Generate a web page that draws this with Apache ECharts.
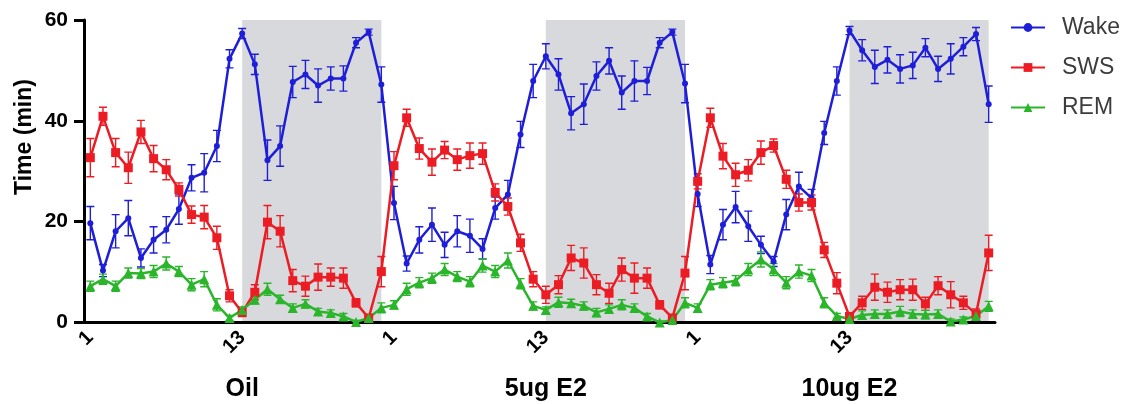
<!DOCTYPE html>
<html><head><meta charset="utf-8">
<script src="https://cdn.jsdelivr.net/npm/echarts@6/dist/echarts.min.js"></script>
<style>html,body{margin:0;padding:0;background:#fff}#c{width:1130px;height:404px}</style>
</head><body><div id="c"></div>
<script>
const groups = ['Oil', '5ug E2', '10ug E2'];
const hours = [1,2,3,4,5,6,7,8,9,10,11,12,13,14,15,16,17,18,19,20,21,22,23,24];
const darkStart = 13, darkEnd = 24;
const yTicks = [0, 20, 40, 60];

const wake = [
19.7,10.3,18.1,20.7,12.8,16.4,18.4,22.5,28.7,29.7,35.0,52.3,
57.3,51.2,32.2,35.0,47.7,49.2,47.0,48.4,48.4,55.5,57.6,47.2,
23.7,11.7,16.4,19.4,15.4,18.1,17.2,14.6,22.7,25.4,37.3,47.9,
52.8,49.2,41.5,43.3,48.9,51.9,45.6,47.9,47.9,55.5,57.6,47.4,
25.5,11.5,19.4,22.9,19.1,15.4,12.1,21.4,27.0,24.7,37.6,47.9,
57.9,54.0,50.7,52.1,50.3,51.0,54.5,50.3,52.3,54.7,57.2,43.3];
const wakeErr = [
3.3,1.2,3.3,3.5,1.8,2.6,2.6,3.0,2.6,3.8,3.1,1.8,
1.0,2.0,4.0,4.0,3.1,2.8,3.3,2.3,2.5,1.0,0.6,3.5,
3.3,1.5,2.6,3.3,2.5,3.1,3.3,2.0,2.2,2.8,2.6,3.3,
2.5,3.1,3.3,4.0,2.8,2.6,3.3,4.0,2.7,1.0,0.6,3.8,
2.5,1.8,3.0,3.1,3.0,1.7,1.0,3.0,2.8,1.7,2.3,2.8,
0.8,2.1,3.3,2.6,2.8,2.6,1.8,2.5,3.0,1.8,1.3,3.6];
const sws = [
32.7,40.9,33.7,30.7,37.8,32.5,30.3,26.4,21.4,20.9,16.8,5.3,
2.0,6.0,19.9,18.1,8.3,7.2,9.0,9.0,8.8,3.9,0.9,10.1,
31.1,40.6,34.5,31.8,34.2,32.3,33.1,33.5,25.8,23.0,15.8,8.6,
5.5,7.5,12.8,11.8,7.5,5.8,10.5,8.8,8.8,3.5,0.9,9.8,
28.0,40.6,33.0,29.3,30.2,33.7,35.1,28.4,23.8,23.8,14.4,7.8,
1.2,3.9,7.0,6.0,6.5,6.5,3.7,7.3,5.5,3.9,1.7,13.8];
const swsErr = [
3.8,1.8,2.8,3.1,2.3,2.6,2.0,1.3,1.7,2.3,2.3,1.2,
0.8,1.5,3.3,3.1,2.2,2.0,2.6,1.8,2.0,0.8,0.5,3.0,
2.8,1.7,2.1,2.6,1.7,2.1,2.5,2.1,1.7,1.7,1.7,1.5,
1.7,1.8,2.5,3.0,2.0,2.0,2.3,3.0,2.0,0.8,0.5,3.3,
1.5,1.9,2.5,2.3,2.1,2.3,1.3,1.8,1.7,1.5,1.5,2.1,
0.5,1.3,2.6,2.0,2.0,2.1,1.3,1.8,2.6,1.3,1.0,3.5];
const rem = [
7.2,8.6,7.2,9.8,9.7,10.1,11.7,10.1,7.5,8.6,3.5,0.9,
2.5,4.5,6.6,4.6,2.9,3.7,2.2,1.9,1.2,0.1,0.9,2.9,
3.5,6.6,7.9,8.8,10.5,9.1,8.1,11.3,10.1,12.3,7.7,3.3,
2.5,4.0,3.8,3.3,2.0,2.7,3.5,2.9,1.2,0.0,0.5,3.9,
2.9,7.5,7.9,8.3,10.5,12.5,10.5,7.9,10.1,9.3,3.9,1.3,
0.7,1.5,1.7,1.7,2.2,1.7,1.6,1.7,0.2,0.6,1.3,3.2];
const remErr = [
1.0,1.0,1.0,1.0,1.0,1.2,1.3,1.0,1.2,1.5,1.2,0.5,
0.6,0.8,1.2,0.8,0.8,0.8,0.6,0.6,0.6,0.3,0.3,1.0,
0.8,1.2,1.0,1.0,1.2,1.0,1.0,1.3,1.2,1.5,1.0,0.8,
0.6,1.0,0.8,0.8,0.8,0.8,1.0,0.8,0.6,0.3,0.3,1.0,
0.8,1.0,1.0,1.0,1.2,1.5,1.2,1.2,1.3,1.2,1.0,0.5,
0.3,0.8,0.8,0.8,1.0,0.8,0.8,0.8,0.5,0.5,0.6,1.0];

const BLUE = '#1e1ed8', RED = '#ec1c24', GREEN = '#2bb52b';
const FONT = '"Liberation Sans", Arial, sans-serif';

const categories = [];
groups.forEach(g => hours.forEach(h => categories.push(g + '|' + h)));
const nH = hours.length;

const darkAreas = groups.map(g => [{ xAxis: g + '|' + darkStart }, { xAxis: g + '|' + darkEnd }]);

function errSeries(name, vals, errs, color) {
  return {
    type: 'custom', name: name + ' err', z: 2, silent: true, clip: true,
    data: vals.map((v, i) => [i, v - errs[i], v + errs[i]]),
    encode: { x: 0, y: [1, 2] },
    renderItem: function (params, api) {
      const lo = api.coord([api.value(0), api.value(1)]);
      const hi = api.coord([api.value(0), api.value(2)]);
      const w = 4;
      const st = { stroke: color, lineWidth: 1.4 };
      return { type: 'group', children: [
        { type: 'line', shape: { x1: lo[0], y1: lo[1], x2: hi[0], y2: hi[1] }, style: st },
        { type: 'line', shape: { x1: hi[0] - w, y1: hi[1], x2: hi[0] + w, y2: hi[1] }, style: st },
        { type: 'line', shape: { x1: lo[0] - w, y1: lo[1], x2: lo[0] + w, y2: lo[1] }, style: st }
      ]};
    }
  };
}

function lineSeries(name, vals, color, symbol, size, extra) {
  return Object.assign({
    type: 'line', name: name, data: vals, symbol: symbol, symbolSize: size, z: 3,
    showAllSymbol: true,
    lineStyle: { color: color, width: 2.5 }, itemStyle: { color: color },
    emphasis: { disabled: true }
  }, extra || {});
}

const chart = echarts.init(document.getElementById('c'), null, { renderer: 'canvas' });
chart.setOption({
  animation: false,
  backgroundColor: '#fff',
  grid: { left: 84, right: 135, top: 20, bottom: 81.5 },
  legend: {
    data: ['Wake', 'SWS', 'REM'], orient: 'vertical', left: 1010, top: 16, padding: 0,
    itemWidth: 34, itemHeight: 11, itemGap: 17, selectedMode: false,
    textStyle: { fontSize: 23, color: '#3c3c3c', fontFamily: FONT, padding: [0, 0, 0, 12] }
  },
  xAxis: [{
    type: 'category', data: categories, boundaryGap: true,
    axisLine: { lineStyle: { color: '#000', width: 3 } },
    axisTick: { alignWithLabel: true, interval: (i) => i % 12 === 0, length: 8, lineStyle: { color: '#000', width: 3 } },
    axisLabel: { interval: (i) => i % 12 === 0, formatter: v => v.split('|')[1], rotate: 45, margin: 12,
      fontSize: 20, fontWeight: 'bold', color: '#000', fontFamily: FONT },
    splitLine: { show: false }
  }, {
    type: 'category', data: categories, boundaryGap: true, position: 'bottom',
    axisLine: { show: false }, axisTick: { show: false },
    axisLabel: { interval: (i) => i % nH === 12, formatter: v => v.split('|')[0], margin: 54,
      fontSize: 25, fontWeight: 'bold', color: '#000', fontFamily: FONT },
    splitLine: { show: false }
  }],
  yAxis: {
    type: 'value', min: yTicks[0], max: yTicks[yTicks.length - 1], interval: yTicks[1] - yTicks[0],
    axisLine: { show: true, lineStyle: { color: '#000', width: 3 } },
    axisTick: { show: true, length: 10, lineStyle: { color: '#000', width: 3 } },
    axisLabel: { margin: 16, fontSize: 21, fontWeight: 'bold', color: '#000', fontFamily: FONT },
    splitLine: { show: false }
  },
  graphic: [{
    type: 'text', x: 25, y: 137, rotation: Math.PI / 2,
    style: { text: 'Time (min)', fontSize: 23, fontWeight: 'bold', fontFamily: FONT, fill: '#000',
      align: 'center', verticalAlign: 'middle' }
  }],
  series: [
    lineSeries('Wake', wake, BLUE, 'circle', 6, {
      markArea: { silent: true, z: 0, itemStyle: { color: '#d8d9dd' }, data: darkAreas }
    }),
    errSeries('Wake', wake, wakeErr, BLUE),
    lineSeries('SWS', sws, RED, 'rect', 9),
    errSeries('SWS', sws, swsErr, RED),
    lineSeries('REM', rem, GREEN, 'triangle', 10),
    errSeries('REM', rem, remErr, GREEN)
  ]
});
</script>
</body></html>
